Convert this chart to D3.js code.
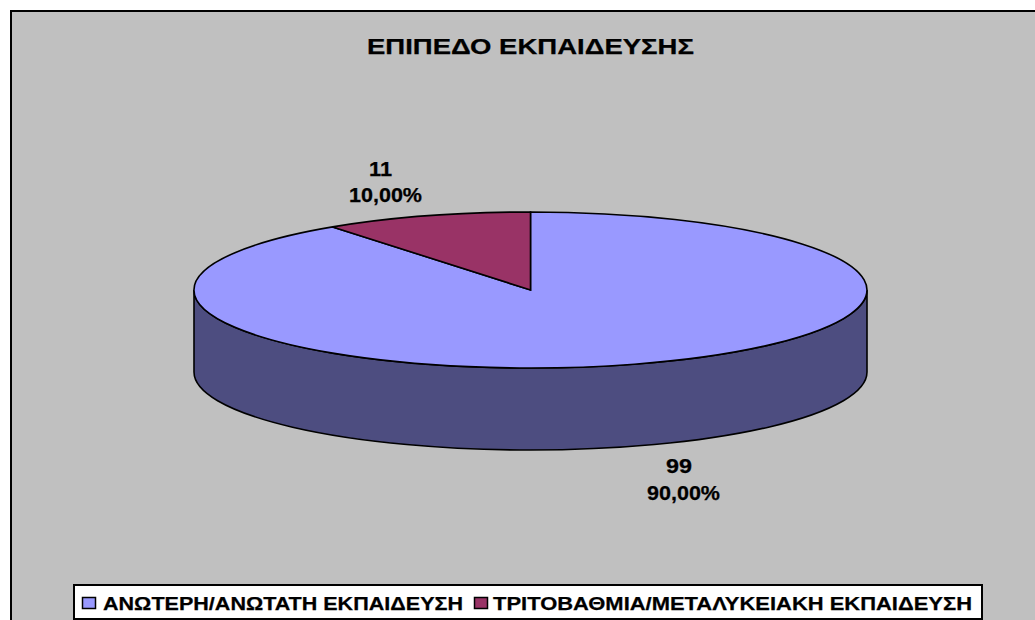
<!DOCTYPE html>
<html><head><meta charset="utf-8">
<script src="https://cdn.jsdelivr.net/npm/d3@7"></script>
<style>html,body{margin:0;padding:0;background:#fff}svg{display:block}text{font-family:"Liberation Sans",Arial,sans-serif;font-weight:bold;fill:#000;stroke:#000;stroke-width:.25px}</style>
</head><body><script>
const titleText = "ΕΠΙΠΕΔΟ ΕΚΠΑΙΔΕΥΣΗΣ";
const categories = ["ΑΝΩΤΕΡΗ/ΑΝΩΤΑΤΗ ΕΚΠΑΙΔΕΥΣΗ", "ΤΡΙΤΟΒΑΘΜΙΑ/ΜΕΤΑΛΥΚΕΙΑΚΗ ΕΚΠΑΙΔΕΥΣΗ"];
const values = [99, 11];
const percentLabels = ["90,00%", "10,00%"];
const topColors = ["#9999ff", "#993366"];
const sideColors = ["#4d4d80", "#4d1a33"];

const W = 1035, H = 620;
const cx = 530.5, cy = 290, rx = 336.5, ry = 78, depth = 82;
const svg = d3.select("body").append("svg").attr("width", W).attr("height", H);

svg.append("rect").attr("x", 11).attr("y", 11).attr("width", W + 20).attr("height", H + 20)
  .attr("fill", "#c0c0c0").attr("stroke", "#000").attr("stroke-width", 2);

function stretched(sel, x, y, size, len, str) {
  return sel.append("text").attr("x", x).attr("y", y)
    .attr("textLength", len).attr("lengthAdjust", "spacingAndGlyphs")
    .style("font-size", size + "px").text(str);
}

stretched(svg, 367, 54, 22, 327, titleText);

const arcs = d3.pie().sort(null).value(d => d)(values);
const px = a => cx + rx * Math.sin(a);
const py = a => cy - ry * Math.cos(a);
const line = "#000";

// cylinder side: the visible front half lies wholly inside the first slice
const a0 = Math.PI / 2, a1 = 3 * Math.PI / 2;
const side = `M${px(a0)},${py(a0)} A${rx},${ry} 0 0 1 ${px(a1)},${py(a1)} L${px(a1)},${py(a1) + depth} A${rx},${ry} 0 0 0 ${px(a0)},${py(a0) + depth} Z`;
svg.append("path").attr("d", side).attr("fill", sideColors[0]).attr("stroke", line).attr("stroke-width", 1.6);

// top slices: unit arcs scaled into an ellipse
const arc = d3.arc().innerRadius(0).outerRadius(1);
svg.append("g").attr("transform", `translate(${cx},${cy}) scale(${rx},${ry})`)
  .selectAll("path").data(arcs).join("path")
  .attr("d", arc)
  .attr("fill", (d, i) => topColors[i])
  .attr("stroke", line).attr("stroke-width", 1.6)
  .attr("vector-effect", "non-scaling-stroke");

// data labels
const valueBox = [[666, 473, 26], [369, 176, 23]];
const pctBox = [[647, 500, 73], [349, 202, 73]];
values.forEach((v, i) => {
  stretched(svg, valueBox[i][0], valueBox[i][1], 19.5, valueBox[i][2], String(v));
  stretched(svg, pctBox[i][0], pctBox[i][1], 19.5, pctBox[i][2], percentLabels[i]);
});

// legend
svg.append("rect").attr("x", 74).attr("y", 585).attr("width", 908).attr("height", 34)
  .attr("fill", "#fff").attr("stroke", "#000").attr("stroke-width", 2);
const swX = [82.5, 474.5], txX = [103, 493], txLen = [360, 479];
categories.forEach((c, i) => {
  svg.append("rect").attr("x", swX[i]).attr("y", 597.5).attr("width", 13).attr("height", 11)
    .attr("fill", topColors[i]).attr("stroke", "#000").attr("stroke-width", 1.5);
  stretched(svg, txX[i], 609.5, 18.5, txLen[i], c);
});
</script></body></html>
